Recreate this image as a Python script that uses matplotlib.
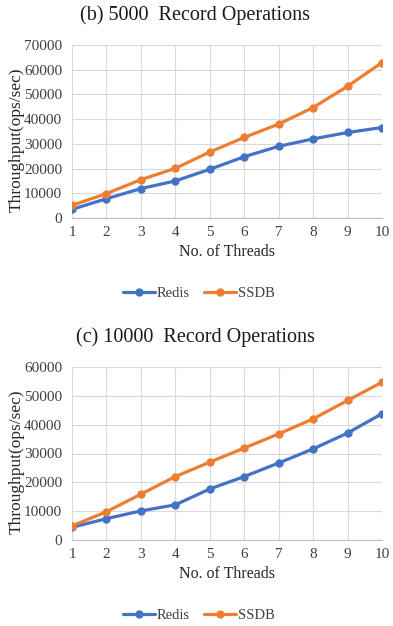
import matplotlib
matplotlib.use("Agg")
import matplotlib.pyplot as plt
from matplotlib.ticker import MultipleLocator

threads = [1, 2, 3, 4, 5, 6, 7, 8, 9, 10]

redis_5000 = [3500, 7800, 11900, 15000, 19700, 24800, 29000, 32000, 34600, 36600]
ssdb_5000 = [5100, 9900, 15500, 20100, 26700, 32600, 38000, 44700, 53300, 62900]

redis_10000 = [4400, 7400, 10100, 12200, 17700, 22000, 26700, 31600, 37100, 43800]
ssdb_10000 = [4900, 9800, 15900, 22000, 27000, 31900, 36800, 42000, 48400, 54700]

titles = ["(b) 5000  Record Operations", "(c) 10000  Record Operations"]
ymaxes = [70000, 60000]
series_names = ["Redis", "SSDB"]

BLUE = "#4472C4"
ORANGE = "#ED7D31"

plt.rcParams["font.family"] = ["Liberation Serif", "DejaVu Serif"]

fig = plt.figure(figsize=(3.93, 6.26), dpi=100)

W, H = 393, 626
panels = [
    dict(left=72, right=382, top=45, bottom=218, title_y=15, leg_y=293,
         redis=redis_5000, ssdb=ssdb_5000, title=titles[0], ymax=ymaxes[0]),
    dict(left=72, right=382, top=367, bottom=540, title_y=337, leg_y=615,
         redis=redis_10000, ssdb=ssdb_10000, title=titles[1], ymax=ymaxes[1]),
]

for p in panels:
    ax = fig.add_axes([p["left"] / W, 1 - p["bottom"] / H,
                       (p["right"] - p["left"]) / W, (p["bottom"] - p["top"]) / H])
    ax.plot(threads, p["redis"], color=BLUE, lw=2.3, marker="o", ms=5,
            label=series_names[0], solid_capstyle="round")
    ax.plot(threads, p["ssdb"], color=ORANGE, lw=2.3, marker="o", ms=5,
            label=series_names[1], solid_capstyle="round")
    ax.set_xlim(1, 10)
    ax.set_ylim(0, p["ymax"])
    ax.set_xticks(threads)
    ax.yaxis.set_major_locator(MultipleLocator(10000))
    ax.grid(True, color="#D9D9D9", lw=0.8)
    ax.set_axisbelow(True)
    for s in ["top", "right", "left"]:
        ax.spines[s].set_visible(False)
    ax.spines["bottom"].set_color("#BFBFBF")
    ax.tick_params(axis="both", length=0, labelsize=11, colors="#404040")
    ax.tick_params(axis="x", pad=6)
    ax.tick_params(axis="y", pad=7)
    ax.set_xlabel("No. of Threads", fontsize=11.5, color="#262626", labelpad=3)
    ax.set_ylabel("Throughput(ops/sec)", fontsize=12.5, color="#262626")
    ax.yaxis.set_label_coords((25 - p["left"]) / (p["right"] - p["left"]), 0.45)
    fig.text(0.497, 1 - p["title_y"] / H, p["title"], ha="center", va="center",
             fontsize=14.5, color="#1a1a1a")
    fig.legend(handles=ax.get_lines(), loc="center",
               bbox_to_anchor=(199 / W, 1 - p["leg_y"] / H), ncol=2, frameon=False,
               fontsize=10.5, handlelength=2.2, columnspacing=1.0, handletextpad=0.1,
               labelcolor="#404040")

fig.savefig("out.png", dpi=100)
